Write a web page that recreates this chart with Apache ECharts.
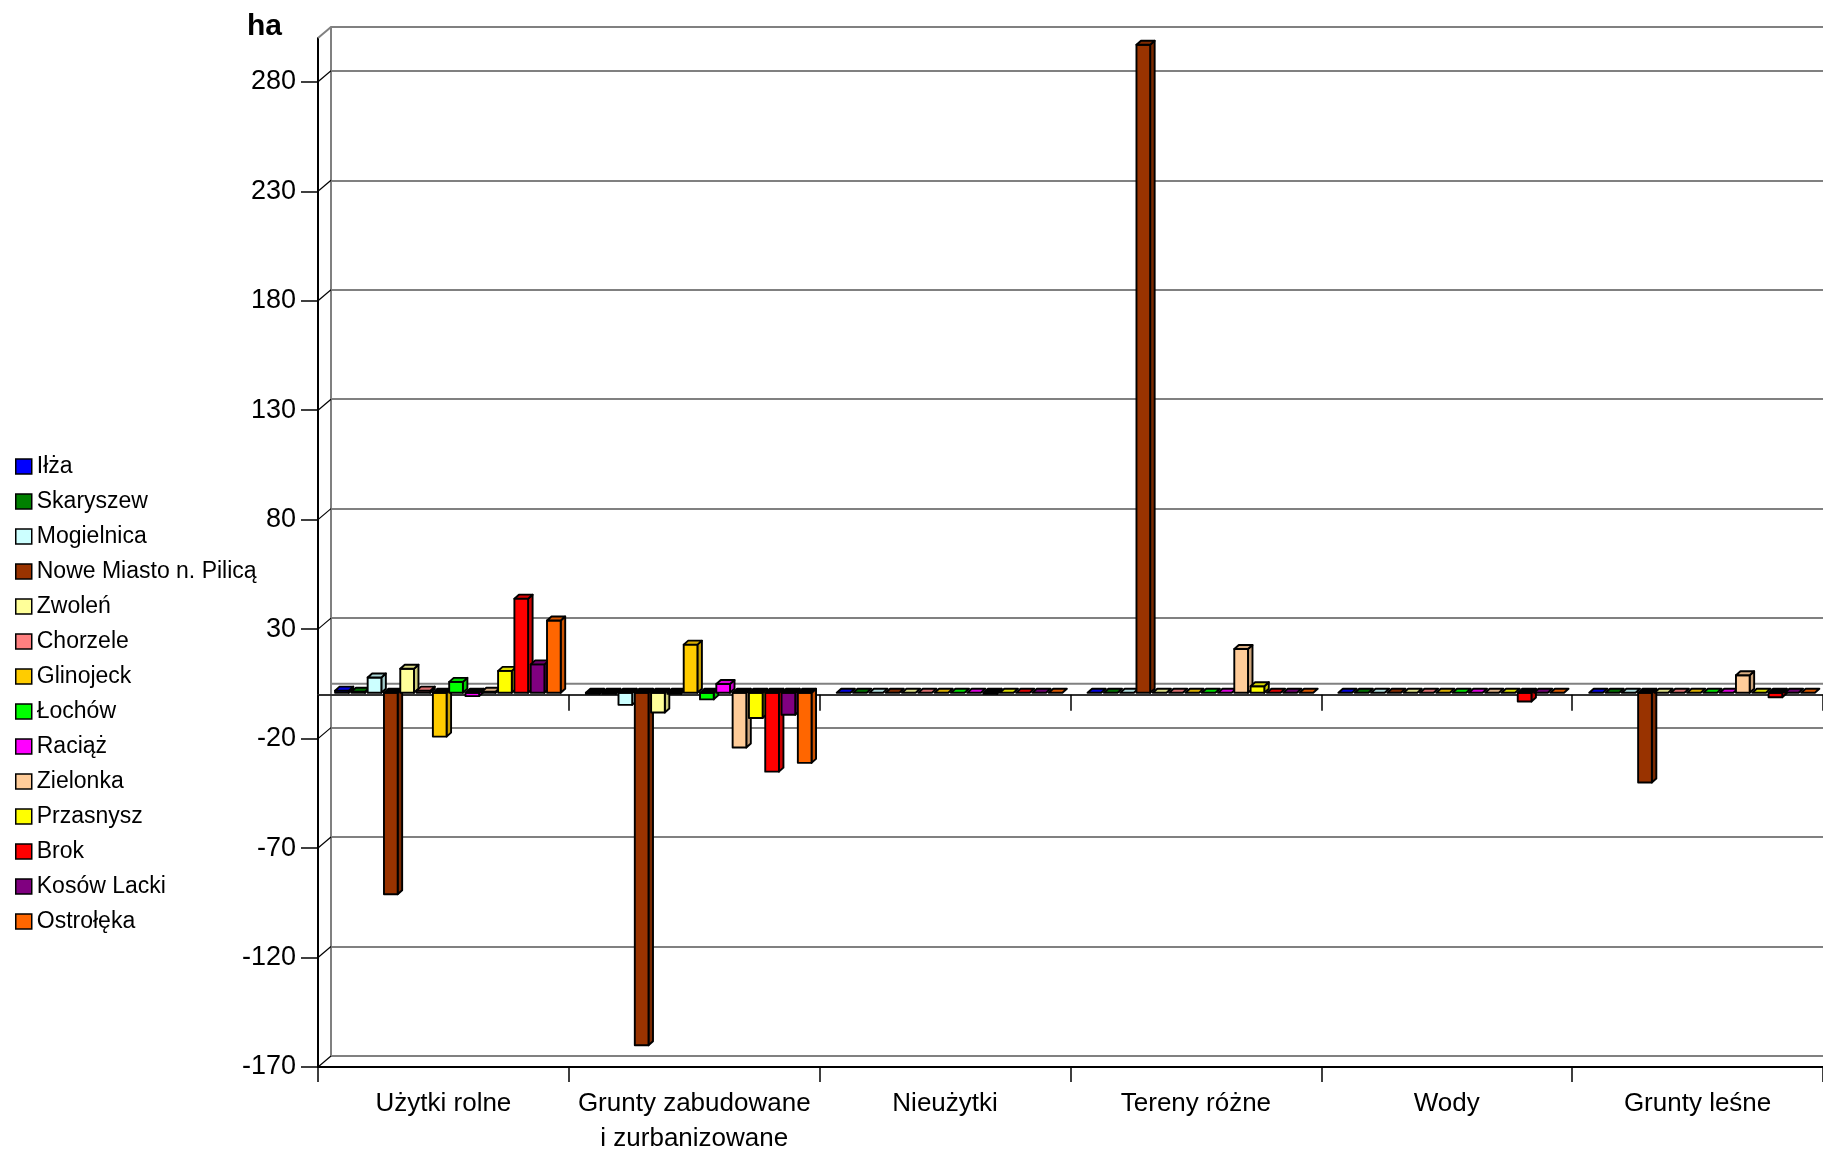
<!DOCTYPE html>
<html>
<head>
<meta charset="utf-8">
<title>Zmiany powierzchni gruntów</title>
<script src="https://cdn.jsdelivr.net/npm/echarts@6.0.0/dist/echarts.min.js"></script>
<style>
  html, body { margin: 0; padding: 0; background: #fff; }
  #chart { width: 1823px; height: 1152px; }
</style>
</head>
<body>
<div id="chart"></div>
<script>
// Land-use categories (x axis)
const categories = [
  'Użytki rolne',
  'Grunty zabudowane\ni zurbanizowane',
  'Nieużytki',
  'Tereny różne',
  'Wody',
  'Grunty leśne'
];

// Value axis (ha)
const yTicks = [-170, -120, -70, -20, 30, 80, 130, 180, 230, 280];
const Y_MIN = -170;
const Y_MAX = 300;
const Y_STEP = 50;

// Towns (series) and their colours
const names = [
  'Iłża', 'Skaryszew', 'Mogielnica', 'Nowe Miasto n. Pilicą', 'Zwoleń',
  'Chorzele', 'Glinojeck', 'Łochów', 'Raciąż', 'Zielonka',
  'Przasnysz', 'Brok', 'Kosów Lacki', 'Ostrołęka'
];
const colors = [
  '#0000FF', '#008000', '#CCFFFF', '#993300', '#FFFF99',
  '#FF8080', '#FFCC00', '#00FF00', '#FF00FF', '#FFCC99',
  '#FFFF00', '#FF0000', '#800080', '#FF6600'
];

// Change in area per category, ha
const ilza        = [1, -0.5, 0, 0, 0, 0];
const skaryszew   = [0.5, -0.5, 0, 0, 0, 0];
const mogielnica  = [7, -5.5, 0, 0, 0, 0];
const noweMiasto  = [-92, -161, 0, 296, 0, -41];
const zwolen      = [11, -9, 0, 0, 0, 0];
const chorzele    = [1, -0.5, 0, 0, 0, 0];
const glinojeck   = [-20, 22, 0, 0, 0, 0];
const lochow      = [5, -3, 0, 0, 0, 0];
const raciaz      = [-1.5, 4, 0, 0, 0, 0];
const zielonka    = [0.5, -25, -0.5, 20, 0, 8];
const przasnysz   = [10, -11.5, 0, 3, 0, 0];
const brok        = [43, -36, 0, 0, -4, -2];
const kosowLacki  = [13, -10, 0, 0, 0, 0];
const ostroleka   = [33, -32, 0, 0, 0, 0];

const values = [
  ilza, skaryszew, mogielnica, noweMiasto, zwolen, chorzele, glinojeck,
  lochow, raciaz, zielonka, przasnysz, brok, kosowLacki, ostroleka
];

const FONT = '"Liberation Sans", Arial, Helvetica, sans-serif';
const WALL_DX = 13, WALL_DY = -11;   // depth of the back wall
const CAP_DX = 4.5, CAP_DY = -4;     // depth of each column
const BAR_SHIFT = -2;                // columns stand slightly behind the front edge
const GRAY = '#808080';

function shade(hex, k) {
  const n = parseInt(hex.slice(1), 16);
  const r = Math.round(((n >> 16) & 255) * k);
  const g = Math.round(((n >> 8) & 255) * k);
  const b = Math.round((n & 255) * k);
  return 'rgb(' + r + ',' + g + ',' + b + ')';
}

// 3D-looking column: front face, right side face and cap
function columnRenderer(idx, color) {
  return function (params, api) {
    const cat = api.value(0);
    const v = api.value(1);
    const cw = api.size([1, 0])[0];
    const base = api.coord([cat, 0]);
    const tip = api.coord([cat, v]);
    const pitch = cw * 0.065;
    const x = base[0] - cw / 2 + cw * 0.068 + idx * pitch;
    const w = pitch * 0.84;
    const yZero = base[1] + BAR_SHIFT;
    const yVal = tip[1] + BAR_SHIFT;
    const top = Math.min(yZero, yVal);
    const bottom = Math.max(yZero, yVal);
    const stroke = { stroke: '#000', lineWidth: 1.9, lineJoin: 'round' };
    const children = [];
    if (bottom - top > 0.6) {
      children.push({
        type: 'polygon',
        shape: { points: [[x + w, top], [x + w + CAP_DX, top + CAP_DY], [x + w + CAP_DX, bottom + CAP_DY], [x + w, bottom]] },
        style: Object.assign({ fill: shade(color, 0.8) }, stroke)
      });
      children.push({
        type: 'rect',
        shape: { x: x, y: top, width: w, height: bottom - top },
        style: Object.assign({ fill: color }, stroke)
      });
    }
    children.push({
      type: 'polygon',
      shape: { points: [[x, top], [x + CAP_DX, top + CAP_DY], [x + w + CAP_DX, top + CAP_DY], [x + w, top]] },
      style: Object.assign({ fill: v < 0 ? '#000' : shade(color, 0.85) }, stroke)
    });
    return { type: 'group', children: children };
  };
}

const columnSeries = names.map(function (name, i) {
  return {
    name: name,
    type: 'custom',
    xAxisIndex: 0,
    yAxisIndex: 0,
    z: 3,
    itemStyle: { color: colors[i] },
    encode: { x: 0, y: 1 },
    data: values[i].map(function (v, c) { return [c, v]; }),
    renderItem: columnRenderer(i, colors[i])
  };
});

// Side wall: diagonals joining the front axis ticks with the back wall grid
const wallSeries = {
  type: 'custom',
  name: 'wall',
  xAxisIndex: 0,
  yAxisIndex: 0,
  z: 1,
  silent: true,
  encode: { x: 0, y: 1 },
  data: yTicks.concat([Y_MAX, 0]).map(function (v) { return [0, v]; }),
  renderItem: function (params, api) {
    const cs = params.coordSys;
    const v = api.value(1);
    const y = api.coord([0, v])[1];
    const x0 = cs.x;
    if (v === 0) {
      return {
        type: 'line',
        shape: { x1: x0 + WALL_DX, y1: y + WALL_DY, x2: cs.x + cs.width + 20, y2: y + WALL_DY },
        style: { stroke: GRAY, lineWidth: 2 }
      };
    }
    const isTop = v === Y_MAX;
    return {
      type: 'line',
      shape: { x1: x0, y1: y, x2: x0 + WALL_DX, y2: y + WALL_DY },
      style: { stroke: isTop ? GRAY : '#000', lineWidth: isTop ? 2 : 1.2 }
    };
  }
};

const chart = echarts.init(document.getElementById('chart'), null, { renderer: 'canvas' });

chart.setOption({
  backgroundColor: '#fff',
  animation: false,
  textStyle: { fontFamily: FONT },
  graphic: [{
    type: 'text',
    left: 247,
    top: 12,
    style: { text: 'ha', font: 'bold 30px ' + FONT, fill: '#000' }
  }],
  legend: {
    orient: 'vertical',
    left: 10,
    top: 450,
    itemWidth: 16,
    itemHeight: 15,
    itemGap: 12,
    selectedMode: false,
    textStyle: { fontSize: 23, lineHeight: 23, color: '#000', fontFamily: FONT },
    data: names.map(function (n, i) {
      return { name: n, icon: 'rect', itemStyle: { color: colors[i], borderColor: '#000', borderWidth: 1.5 } };
    })
  },
  grid: [
    { left: 318, top: 38, right: 0, height: 1029, outerBoundsMode: 'none' },
    { left: 331, top: 27, right: 0, height: 1029, outerBoundsMode: 'none' }
  ],
  xAxis: [
    {
      type: 'category', gridIndex: 0, data: categories, position: 'bottom',
      axisLine: { onZero: false, lineStyle: { color: '#000', width: 2 } },
      axisTick: { show: true, length: 15, lineStyle: { color: '#000', width: 1.5 } },
      axisLabel: { interval: 0, fontSize: 26, lineHeight: 35, margin: 19, color: '#000', fontFamily: FONT },
      splitLine: { show: false }
    },
    {
      type: 'category', gridIndex: 0, data: categories, position: 'top',
      axisLine: { onZero: true, lineStyle: { color: '#333', width: 2 } },
      axisTick: { show: true, inside: true, length: 16, lineStyle: { color: '#000', width: 1.5 } },
      axisLabel: { show: false },
      splitLine: { show: false }
    },
    { type: 'category', gridIndex: 1, data: categories, show: false }
  ],
  yAxis: [
    {
      type: 'value', gridIndex: 0, min: Y_MIN, max: Y_MAX, interval: Y_STEP,
      axisLine: { show: true, lineStyle: { color: '#000', width: 2 } },
      axisTick: { show: true, length: 17, customValues: yTicks, lineStyle: { color: '#000', width: 1.5 } },
      axisLabel: { customValues: yTicks, fontSize: 27, margin: 22, color: '#000', fontFamily: FONT },
      splitLine: { show: false }
    },
    {
      type: 'value', gridIndex: 1, min: Y_MIN, max: Y_MAX, interval: Y_STEP,
      axisLine: { show: true, lineStyle: { color: GRAY, width: 2 } },
      axisTick: { show: false },
      axisLabel: { show: false },
      splitLine: { show: true, lineStyle: { color: GRAY, width: 2 } }
    }
  ],
  series: [wallSeries].concat(columnSeries)
});
</script>
</body>
</html>
